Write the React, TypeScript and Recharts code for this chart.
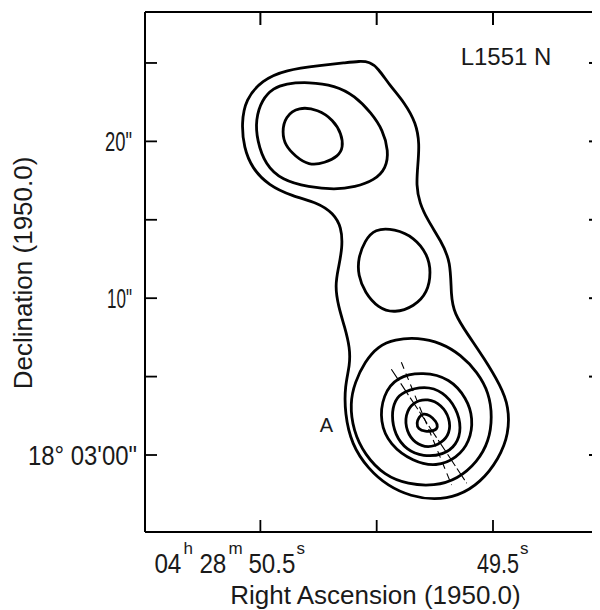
import React from 'react';
import { LineChart, Line, XAxis, YAxis, ReferenceLine, ReferenceDot } from 'recharts';

// Contours: [RA seconds (04h28m + s), Dec offset arcsec from 18°03'00"]
const contourOuter: [number, number][] = [
  [50.073, 25.12], [50.137, 25.01], [50.236, 24.85], [50.393, 24.56], [50.493, 23.9],
  [50.564, 22.69], [50.581, 21.15], [50.571, 19.61], [50.536, 18.29], [50.464, 17.19],
  [50.365, 16.52], [50.251, 16.08], [50.187, 15.42], [50.151, 14.54], [50.147, 13.22],
  [50.165, 11.9], [50.179, 10.8], [50.165, 9.48], [50.137, 8.15], [50.115, 6.83],
  [50.115, 5.73], [50.137, 4.41], [50.137, 2.65], [50.108, 0.67], [50.037, -0.88],
  [49.952, -1.98], [49.852, -2.64], [49.752, -2.86], [49.652, -2.64], [49.553, -1.76],
  [49.474, -0.22], [49.432, 1.33], [49.432, 3.09], [49.467, 4.41], [49.538, 6.17],
  [49.61, 7.71], [49.667, 9.04], [49.681, 10.14], [49.681, 12.34], [49.724, 13.66],
  [49.781, 14.98], [49.816, 16.08], [49.83, 17.19], [49.823, 18.51], [49.816, 19.83],
  [49.83, 21.15], [49.88, 22.47], [49.944, 23.57], [49.994, 24.67], [50.03, 25.07],
];

const contourNorthMid: [number, number][] = [
  [50.393, 23.68], [50.293, 23.79], [50.179, 23.57], [50.094, 22.91], [50.023, 21.81],
  [49.973, 20.71], [49.949, 19.39], [49.959, 18.29], [50.009, 17.52], [50.094, 17.08],
  [50.179, 16.92], [50.293, 17.08], [50.407, 17.52], [50.479, 18.51], [50.514, 20.05],
  [50.521, 21.37], [50.493, 22.69], [50.443, 23.4],
];

const contourNorthPeak: [number, number][] = [
  [50.336, 22.21], [50.251, 22.03], [50.187, 21.37], [50.151, 20.49], [50.144, 19.61],
  [50.165, 19.06], [50.222, 18.62], [50.293, 18.46], [50.35, 19.06], [50.393, 19.72],
  [50.407, 20.6], [50.393, 21.59],
];

const contourCentral: [number, number][] = [
  [50.009, 14.43], [49.923, 14.43], [49.838, 13.88], [49.781, 12.78], [49.766, 11.68],
  [49.781, 10.36], [49.838, 9.48], [49.923, 9.04], [49.994, 9.37], [50.051, 10.36],
  [50.08, 11.46], [50.08, 12.56], [50.051, 13.66],
];

const contourSouth2: [number, number][] = [
  [49.923, 7.38], [49.823, 7.49], [49.724, 7.16], [49.638, 6.39], [49.567, 5.29],
  [49.517, 3.97], [49.503, 2.43], [49.517, 0.89], [49.567, -0.44], [49.652, -1.54],
  [49.752, -1.98], [49.866, -1.87], [49.966, -1.32], [50.051, 0.0], [50.101, 1.55],
  [50.115, 3.31], [50.094, 4.63], [50.051, 5.95], [49.994, 6.94],
];

const contourSouth3: [number, number][] = [
  [49.973, 3.83], [49.915, 4.99], [49.8, 5.31], [49.685, 4.89], [49.613, 3.62],
  [49.585, 2.34], [49.599, 0.85], [49.656, -0.21], [49.743, -0.75], [49.844, -0.43],
  [49.944, 0.64], [49.987, 2.12],
];

const contourSouth4: [number, number][] = [
  [49.922, 3.51], [49.887, 4.04], [49.793, 4.42], [49.714, 4.04], [49.656, 2.98],
  [49.635, 1.7], [49.656, 0.64], [49.714, 0.0], [49.8, -0.11], [49.872, 0.32],
  [49.922, 1.28], [49.937, 2.55],
];

const contourSouth5: [number, number][] = [
  [49.844, 3.4], [49.779, 3.62], [49.721, 3.19], [49.685, 2.34], [49.685, 1.38],
  [49.721, 0.75], [49.779, 0.43], [49.836, 0.75], [49.872, 1.49], [49.879, 2.55],
];

const contourCore: [number, number][] = [
  [49.8, 2.66], [49.772, 2.55], [49.743, 2.12], [49.736, 1.8], [49.75, 1.53],
  [49.793, 1.49], [49.822, 1.66], [49.829, 2.02], [49.818, 2.44],
];

const axisSolid: [number, number][] = [[49.937, 5.47], [49.613, -1.8]];
const axisDashed: [number, number][] = [[49.894, 5.91], [49.678, -1.91]];

const contours = [
  contourOuter, contourNorthMid, contourNorthPeak, contourCentral,
  contourSouth2, contourSouth3, contourSouth4, contourSouth5, contourCore,
];

const decTicks = [0, 5, 10, 15, 20, 25];
const raTicks = [50.5, 50.0, 49.5];
const decDomain = [-4.91, 28.25];
const raDomain = [49.04, 50.996];

const sourceName = 'L1551 N';
const sourceNamePos = [49.444, 25.41];
const markerA = 'A';
const markerAPos = [50.216, 1.91];

const FONT = '"Liberation Sans", Arial, sans-serif';
const INK = '#1a1a1a';

const CHART_W = 592;
const CHART_H = 602;
const MARGIN_TOP = 4;
const Y_AXIS_W = 137;
const X_AXIS_H = 78;
const PLOT_W = CHART_W - Y_AXIS_W;
const PLOT_H = CHART_H - MARGIN_TOP - X_AXIS_H;
// tick lengths (px) converted to data units for the inward top / right tick marks
const TOP_TICK_LEN = (13 / PLOT_H) * (decDomain[1] - decDomain[0]);
const RIGHT_TICK_LEN = (11 / PLOT_W) * (raDomain[1] - raDomain[0]);

const toPts = (arr: [number, number][]) => arr.map(([ra, dec]) => ({ ra, dec }));

const topTickMarks = raTicks.map((t) => [
  { ra: t, dec: decDomain[1] },
  { ra: t, dec: decDomain[1] - TOP_TICK_LEN },
]);
const rightTickMarks = decTicks.map((t) => [
  { ra: raDomain[0], dec: t },
  { ra: raDomain[0] + RIGHT_TICK_LEN, dec: t },
]);

const LeftTick = (props: any) => {
  const { x, y, payload } = props;
  const v = payload.value;
  return (
    <g>
      <line x1={x} y1={y} x2={x + 12} y2={y} stroke="#000" strokeWidth={1.8} />
      {v === 20 && (
        <text x={x - 40} y={y + 10} fontSize={27} fontFamily={FONT} fill={INK} textLength={27} lengthAdjust="spacingAndGlyphs">20"</text>
      )}
      {v === 10 && (
        <text x={x - 38} y={y + 10} fontSize={27} fontFamily={FONT} fill={INK} textLength={25} lengthAdjust="spacingAndGlyphs">10"</text>
      )}
      {v === 0 && (
        <text x={x - 117} y={y + 10} fontSize={27} fontFamily={FONT} fill={INK} textLength={109} lengthAdjust="spacingAndGlyphs">18° 03'00"</text>
      )}
    </g>
  );
};

const BottomTick = (props: any) => {
  const { x, y, payload } = props;
  const v = payload.value;
  const base = y + 41;
  const sup = y + 22;
  return (
    <g>
      <line x1={x} y1={y} x2={x} y2={y - 12} stroke="#000" strokeWidth={1.8} />
      {v === 50.5 && (
        <text fontFamily={FONT} fill={INK} fontSize={28}>
          <tspan x={x - 106} y={base} textLength={27} lengthAdjust="spacingAndGlyphs">04</tspan>
          <tspan x={x - 77} y={sup} fontSize={17}>h</tspan>
          <tspan x={x - 61} y={base} textLength={27} lengthAdjust="spacingAndGlyphs">28</tspan>
          <tspan x={x - 32} y={sup} fontSize={17}>m</tspan>
          <tspan x={x - 12} y={base} textLength={47} lengthAdjust="spacingAndGlyphs">50.5</tspan>
          <tspan x={x + 36} y={sup} fontSize={17}>s</tspan>
        </text>
      )}
      {v === 49.5 && (
        <text fontFamily={FONT} fill={INK} fontSize={28}>
          <tspan x={x - 16} y={base} textLength={42} lengthAdjust="spacingAndGlyphs">49.5</tspan>
          <tspan x={x + 27} y={sup} fontSize={17}>s</tspan>
        </text>
      )}
    </g>
  );
};

const DecLabel = (props: any) => {
  const vb = props.viewBox || { x: 0, y: MARGIN_TOP, width: Y_AXIS_W, height: PLOT_H };
  const cx = vb.x + 24;
  const cy = vb.y + vb.height / 2 + 1;
  return (
    <text x={cx} y={cy} transform={`rotate(-90 ${cx} ${cy})`} textAnchor="middle" fontSize={26} fontFamily={FONT} fill={INK}>
      Declination (1950.0)
    </text>
  );
};

const RaLabel = (props: any) => {
  const vb = props.viewBox || { x: Y_AXIS_W, y: MARGIN_TOP + PLOT_H, width: PLOT_W, height: X_AXIS_H };
  const cx = vb.x + vb.width / 2 + 3;
  const cy = vb.y + 72;
  return (
    <text x={cx} y={cy} textAnchor="middle" fontSize={26} fontFamily={FONT} fill={INK}>
      Right Ascension (1950.0)
    </text>
  );
};

export default function App() {
  return (
    <div style={{ width: CHART_W, height: CHART_H, background: '#fff' }}>
      <LineChart width={CHART_W} height={CHART_H} margin={{ top: MARGIN_TOP, right: 0, bottom: 0, left: 0 }}>
        <XAxis
          xAxisId="bottom"
          dataKey="ra"
          type="number"
          domain={raDomain}
          allowDataOverflow
          reversed
          ticks={raTicks}
          interval={0}
          height={X_AXIS_H}
          tickSize={0}
          tickMargin={0}
          tick={<BottomTick />}
          axisLine={{ stroke: '#000', strokeWidth: 2 }}
          tickLine={false}
          label={<RaLabel />}
        />
        <YAxis
          yAxisId="left"
          dataKey="dec"
          type="number"
          domain={decDomain}
          allowDataOverflow
          ticks={decTicks}
          interval={0}
          width={Y_AXIS_W}
          tickSize={0}
          tickMargin={0}
          tick={<LeftTick />}
          axisLine={{ stroke: '#000', strokeWidth: 2 }}
          tickLine={false}
          label={<DecLabel />}
        />
        <ReferenceLine
          xAxisId="bottom"
          yAxisId="left"
          y={decDomain[1]}
          stroke="#000"
          strokeWidth={2}
          ifOverflow="visible"
        />
        {topTickMarks.map((d, i) => (
          <Line
            key={`top-${i}`}
            xAxisId="bottom"
            yAxisId="left"
            data={d}
            dataKey="dec"
            type="linear"
            stroke="#000"
            strokeWidth={2}
            dot={false}
            activeDot={false}
            isAnimationActive={false}
          />
        ))}
        {rightTickMarks.map((d, i) => (
          <Line
            key={`right-${i}`}
            xAxisId="bottom"
            yAxisId="left"
            data={d}
            dataKey="dec"
            type="linear"
            stroke="#000"
            strokeWidth={2}
            dot={false}
            activeDot={false}
            isAnimationActive={false}
          />
        ))}
        {contours.map((c, i) => (
          <Line
            key={i}
            xAxisId="bottom"
            yAxisId="left"
            data={toPts(c)}
            dataKey="dec"
            type="basisClosed"
            stroke="#000"
            strokeWidth={2.8}
            dot={false}
            activeDot={false}
            isAnimationActive={false}
          />
        ))}
        <ReferenceLine
          xAxisId="bottom"
          yAxisId="left"
          segment={[{ x: axisSolid[0][0], y: axisSolid[0][1] }, { x: axisSolid[1][0], y: axisSolid[1][1] }]}
          stroke="#000"
          strokeWidth={1.1}
          strokeDasharray="14 3"
        />
        <ReferenceLine
          xAxisId="bottom"
          yAxisId="left"
          segment={[{ x: axisDashed[0][0], y: axisDashed[0][1] }, { x: axisDashed[1][0], y: axisDashed[1][1] }]}
          stroke="#000"
          strokeWidth={1.1}
          strokeDasharray="7 5"
        />
        <ReferenceDot
          xAxisId="bottom"
          yAxisId="left"
          x={sourceNamePos[0]}
          y={sourceNamePos[1]}
          r={0}
          fill="none"
          stroke="none"
          label={{ value: sourceName, position: 'center', fontSize: 24, fontFamily: FONT, fill: INK }}
        />
        <ReferenceDot
          xAxisId="bottom"
          yAxisId="left"
          x={markerAPos[0]}
          y={markerAPos[1]}
          r={0}
          fill="none"
          stroke="none"
          label={{ value: markerA, position: 'center', fontSize: 20, fontFamily: FONT, fill: INK }}
        />
      </LineChart>
    </div>
  );
}
